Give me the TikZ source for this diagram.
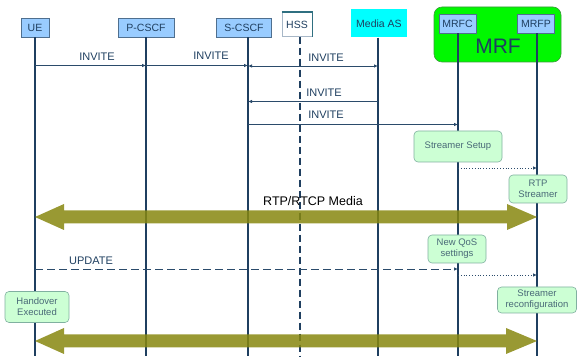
\documentclass[tikz,border=0pt]{standalone}
\usepackage{fontspec}
\setmainfont{Liberation Sans}
\usetikzlibrary{arrows.meta,calc}
\definecolor{navy}{HTML}{1F3F60}
\definecolor{msg}{HTML}{2B4B6B}
\definecolor{entfill}{HTML}{99CCFF}
\definecolor{entdraw}{HTML}{4F6F8F}
\definecolor{notefill}{HTML}{CCFFD4}
\definecolor{notedraw}{HTML}{80B0A0}
\definecolor{notetext}{HTML}{4A6A78}
\definecolor{olivefill}{HTML}{87870F}
\definecolor{mrfgreen}{HTML}{00F800}
\definecolor{mrfdraw}{HTML}{3C9A3C}
\definecolor{hssedge}{HTML}{2F6F80}
\definecolor{asfill}{HTML}{00FFFF}
\begin{document}
\begin{tikzpicture}[x=1pt,y=-1pt,
  entity/.style={draw=entdraw, fill=entfill, line width=0.7pt, inner sep=0pt,
    minimum height=19pt, text=navy, font=\fontsize{10.5}{12}\selectfont},
  note/.style={draw=notedraw, fill=notefill, rounded corners=4pt, line width=0.6pt,
    inner sep=0pt, align=center, text=notetext, font=\fontsize{9.5}{11}\selectfont},
  lifeline/.style={draw=navy, line width=1.4pt},
  msgline/.style={draw=msg, line width=0.8pt, -{Latex[length=4pt,width=3.5pt]}},
  lbl/.style={text=navy, font=\fontsize{11}{13}\selectfont, inner sep=0pt},
  dotmsg/.style={draw=msg, line width=0.8pt, dotted, -{Latex[length=4pt,width=3.5pt]}},
  bigarrow/.style={fill=olivefill, fill opacity=.85}
]
\useasboundingbox (0,0) rectangle (579,358);

% MRF container
\node[draw=mrfdraw, fill=mrfgreen, rounded corners=8pt, line width=0.6pt,
      minimum width=127pt, minimum height=55pt, inner sep=0pt] (mrf) at (497.5,34.5) {};
\node[text=navy, font=\fontsize{21}{24}\selectfont, inner sep=0pt] (mrflabel) at (498,46) {MRF};

% entities
\node[entity, minimum width=28pt] (ue) at (35,27.5) {UE};
\node[entity, minimum width=56pt] (pc) at (146,27.5) {P-CSCF};
\node[entity, minimum width=55pt] (sc) at (244,27.5) {S-CSCF};
\node[draw=entdraw!50, fill=white, line width=0.5pt, inner sep=0pt, minimum width=30pt,
      minimum height=24pt, text=navy, font=\fontsize{10.5}{12}\selectfont] (hss) at (297,24.5) {HSS};
\draw[hssedge, line width=1.5pt] (hss.north west) -- (hss.north east) -- (hss.south east);
\node[fill=asfill, inner sep=0pt, minimum width=56pt, minimum height=28pt, text=navy,
      font=\fontsize{10.5}{12}\selectfont] (mas) at (379,23.5) {Media AS};
\node[entity, minimum width=37pt, minimum height=19pt] (mrfc) at (457.5,23.5) {MRFC};
\node[entity, minimum width=37pt, minimum height=19pt] (mrfp) at (536,23.5) {MRFP};

% lifeline anchors
\coordinate (bot) at (0,356);
\coordinate (uel) at (ue.south);
\coordinate (pcl) at (pc.south);
\coordinate (scl) at ([xshift=4pt]sc.south);
\coordinate (hssl) at ([xshift=3pt]hss.south);
\coordinate (masl) at ([xshift=-1pt]mas.south);
\coordinate (mrfcl) at ([xshift=0.5pt]mrfc.south);
\coordinate (mrfpl) at ([xshift=1pt]mrfp.south);

% lifelines
\draw[lifeline] (uel) -- (uel |- bot);
\draw[lifeline] (pcl) -- (pcl |- bot);
\draw[lifeline] (scl) -- (scl |- bot);
\draw[navy, line width=1.8pt, dash pattern=on 7pt off 4pt] (hssl) -- (hssl |- bot);
\draw[lifeline] (masl) -- (masl |- bot);
\draw[lifeline] (mrfcl) -- (mrfcl |- bot);
\draw[lifeline] (mrfpl) -- (mrfpl |- bot);

% message rows
\coordinate (r1) at (0,65.5);
\coordinate (r2) at (0,66);
\coordinate (r3) at (0,101.5);
\coordinate (r4) at (0,124.5);
\coordinate (r5) at (0,168);
\coordinate (r6) at (0,269);
\coordinate (r7) at (0,275);

% INVITE chain
\draw[msgline] (uel |- r1) -- (pcl |- r1);
\node[lbl] (l1) at (97,57) {INVITE};
\draw[msgline] (pcl |- r1) -- (scl |- r1);
\node[lbl] (l2) at (211,56) {INVITE};
\draw[msgline, {Latex[length=4pt,width=3.5pt]}-{Latex[length=4pt,width=3.5pt]}] (scl |- r2) -- (masl |- r2);
\node[lbl] (l3) at (326,58) {INVITE};
\draw[msgline] (masl |- r3) -- (scl |- r3);
\node[lbl] (l4) at (324,93) {INVITE};
\draw[msgline] (scl |- r4) -- (mrfcl |- r4);
\node[lbl] (l5) at (326,115) {INVITE};

% streamer setup
\node[note, minimum width=88pt, minimum height=31pt] (setup) at (458,146.5) {Streamer Setup};
\draw[dotmsg] (mrfcl |- r5) -- (mrfpl |- r5);
\node[note, minimum width=58pt, minimum height=28pt] (rtps) at (538,189) {RTP\\Streamer};

% media flow 1
\coordinate (a1l) at (uel |- 0,217);
\coordinate (a1r) at (mrfpl |- 0,217);
\fill[bigarrow] (a1l) -- ++(29,-13) -- ++(0,6.5) -- ($(a1r)+(-30,-6.5)$) -- ++(0,-6.5)
  -- (a1r) -- ++(-30,13) -- ++(0,-6.5) -- ($(a1l)+(29,6.5)$) -- ++(0,6.5) -- cycle;
\node[text=black, font=\fontsize{12.5}{14}\selectfont, inner sep=0pt] (media) at (313,201) {RTP/RTCP Media};

% QoS update
\node[note, minimum width=58pt, minimum height=28pt] (qos) at (457,249) {New QoS\\settings};
\draw[msgline, dash pattern=on 8pt off 4pt] (uel |- r6) -- (mrfcl |- r6);
\node[lbl] (l6) at (91,261) {UPDATE};
\draw[dotmsg] (mrfcl |- r7) -- (mrfpl |- r7);
\node[note, minimum width=64pt, minimum height=31pt] (ho) at (37,307) {Handover\\Executed};
\node[note, minimum width=79pt, minimum height=26pt] (recfg) at (537,300) {Streamer\\reconfiguration};

% media flow 2
\coordinate (a2l) at (uel |- 0,341);
\coordinate (a2r) at (mrfpl |- 0,341);
\fill[bigarrow] (a2l) -- ++(29,-13) -- ++(0,6.5) -- ($(a2r)+(-31,-6.5)$) -- ++(0,-6.5)
  -- (a2r) -- ++(-31,13) -- ++(0,-6.5) -- ($(a2l)+(29,6.5)$) -- ++(0,6.5) -- cycle;
\end{tikzpicture}
\end{document}
